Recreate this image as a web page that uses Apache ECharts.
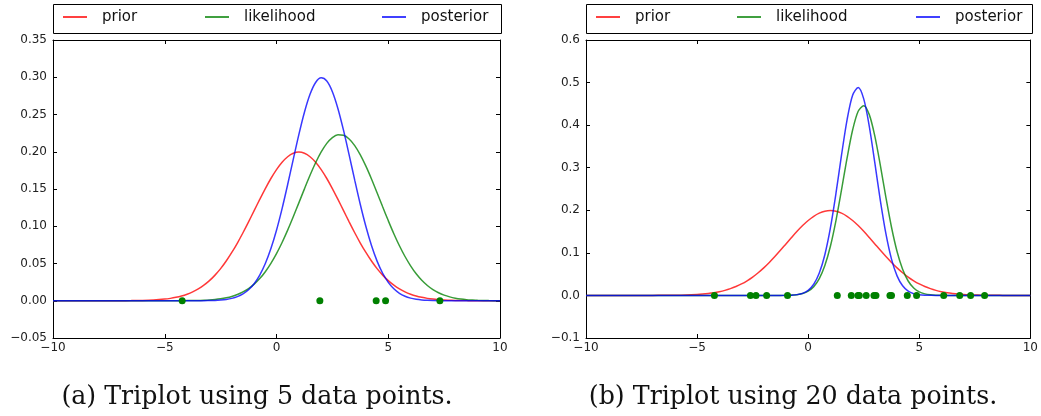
<!DOCTYPE html>
<html>
<head>
<meta charset="utf-8">
<script src="https://cdn.jsdelivr.net/npm/echarts@6/dist/echarts.min.js"></script>
<style>
  html, body { margin: 0; padding: 0; background: #fff; }
  #chart { width: 1041px; height: 416px; }
</style>
</head>
<body>
<div id="chart"></div>
<script>
// ---- data ----
const xTicks = [-10, -5, 0, 5, 10];
const leftYTicks = [-0.05, 0.00, 0.05, 0.10, 0.15, 0.20, 0.25, 0.30, 0.35];
const rightYTicks = [-0.1, 0.0, 0.1, 0.2, 0.3, 0.4, 0.5, 0.6];

const wideX = [-10, -9, -8, -7, -6.5, -6, -5.5, -5,
  -4.75, -4.5, -4.25, -4, -3.75, -3.5, -3.25, -3, -2.75, -2.5, -2.25, -2, -1.75, -1.5, -1.25, -1, -0.75, -0.5, -0.25, 0,
  0.25, 0.5, 0.75, 1, 1.25, 1.5, 1.75, 2, 2.25, 2.5, 2.75, 3, 3.25, 3.5, 3.75, 4, 4.25, 4.5, 4.75, 5,
  5.25, 5.5, 5.75, 6, 6.25, 6.5, 6.75, 7, 7.25, 7.5, 7.75, 8, 8.25, 8.5, 8.75,
  9, 9.5, 10];
const priorY = [0, 0, 0, 0.0001, 0.0002, 0.0004, 0.0010, 0.0022,
  0.0032, 0.0046, 0.0064, 0.0088, 0.0119, 0.0159, 0.0209, 0.0270, 0.0344, 0.0431, 0.0533, 0.0648, 0.0775, 0.0913, 0.1059, 0.1210, 0.1360, 0.1506, 0.1641, 0.1760,
  0.1859, 0.1933, 0.1979, 0.1995, 0.1979, 0.1933, 0.1859, 0.1760, 0.1641, 0.1506, 0.1360, 0.1210, 0.1059, 0.0913, 0.0775, 0.0648, 0.0533, 0.0431, 0.0344, 0.0270,
  0.0209, 0.0159, 0.0119, 0.0088, 0.0064, 0.0046, 0.0032, 0.0022, 0.0015, 0.0010, 0.0007, 0.0004, 0.0003, 0.0002, 0.0001,
  0.0001, 0, 0];
const leftLikeY = [0, 0, 0, 0, 0, 0, 0, 0,
  0, 0, 0.0001, 0.0002, 0.0003, 0.0004, 0.0007, 0.0011, 0.0017, 0.0026, 0.0039, 0.0057, 0.0083, 0.0118, 0.0163, 0.0223, 0.0298, 0.0390, 0.0502, 0.0633,
  0.0782, 0.0948, 0.1127, 0.1314, 0.1502, 0.1684, 0.1852, 0.1997, 0.2112, 0.2190, 0.2227, 0.2221, 0.2172, 0.2083, 0.1959, 0.1807, 0.1635, 0.1450, 0.1261, 0.1076,
  0.0900, 0.0738, 0.0594, 0.0469, 0.0362, 0.0275, 0.0205, 0.0149, 0.0107, 0.0075, 0.0052, 0.0035, 0.0023, 0.0015, 0.0010,
  0.0006, 0.0002, 0.0001];
const leftPostY = [0, 0, 0, 0, 0, 0, 0, 0,
  0, 0, 0, 0, 0, 0.0001, 0.0001, 0.0003, 0.0005, 0.0010, 0.0018, 0.0032, 0.0055, 0.0091, 0.0147, 0.0229, 0.0345, 0.0500, 0.0701, 0.0947,
  0.1237, 0.1560, 0.1898, 0.2230, 0.2530, 0.2771, 0.2930, 0.2992, 0.2949, 0.2806, 0.2578, 0.2286, 0.1958, 0.1619, 0.1292, 0.0996, 0.0741, 0.0532, 0.0369, 0.0247,
  0.0160, 0.0100, 0.0060, 0.0035, 0.0020, 0.0011, 0.0006, 0.0003, 0.0001, 0.0001, 0, 0, 0, 0, 0,
  0, 0, 0];

const narrowX = [-10, -6, -3, -2, -1.5, -1, -0.75, -0.5, -0.25, 0, 0.25, 0.5, 0.75, 1, 1.25, 1.5, 1.75, 2, 2.25, 2.5,
  2.75, 3, 3.25, 3.5, 3.75, 4, 4.25, 4.5, 4.75, 5, 5.25, 5.5, 5.75, 6, 6.5, 7, 8, 10];
const rightLikeY = [0, 0, 0, 0, 0, 0.0002, 0.0007, 0.0018, 0.0044, 0.0099, 0.0205, 0.0394, 0.0702, 0.1156, 0.1759, 0.2477, 0.3226, 0.3885, 0.4327, 0.4458,
  0.4247, 0.3742, 0.3049, 0.2298, 0.1602, 0.1033, 0.0616, 0.0339, 0.0173, 0.0082, 0.0036, 0.0014, 0.0005, 0.0002, 0, 0, 0, 0];
const rightPostY = [0, 0, 0, 0, 0, 0.0002, 0.0006, 0.0019, 0.0049, 0.0119, 0.0262, 0.0525, 0.0956, 0.1585, 0.2395, 0.3294, 0.4125, 0.4704, 0.4884, 0.4617,
  0.3973, 0.3114, 0.2222, 0.1444, 0.0854, 0.0460, 0.0226, 0.0101, 0.0041, 0.0015, 0.0005, 0.0002, 0, 0, 0, 0, 0, 0];

const leftPts = [-4.22, 1.94, 4.46, 4.88, 7.31];
const rightPts = [-4.22, -2.60, -2.35, -1.87, -0.93, 1.31, 1.94, 2.24, 2.30, 2.61, 2.96, 3.05, 3.68, 3.75, 4.46, 4.88, 6.10, 6.82, 7.31, 7.94];

const seriesNames = ['prior', 'likelihood', 'posterior'];
const captions = ['(a) Triplot using 5 data points.', '(b) Triplot using 20 data points.'];

// ---- chart ----
const chart = echarts.init(document.getElementById('chart'), null, { renderer: 'canvas' });
const pairs = (xs, ys) => xs.map((x, i) => [x, ys[i]]);
const ptPairs = (xs) => xs.map(x => [x, 0]);
const minus = s => s.replace('-', '\u2212');
const colors = { prior: '#ff0000', likelihood: '#008000', posterior: '#0000ff' };

const labelFont = { fontFamily: 'DejaVu Sans', fontSize: 12, color: '#222' };

function xAxes(gi) {
  const base = {
    type: 'value', gridIndex: gi, min: xTicks[0], max: xTicks[xTicks.length - 1], interval: xTicks[1] - xTicks[0],
    splitLine: { show: false },
    axisLine: { show: true, onZero: false, lineStyle: { color: '#000', width: 1 } },
    axisTick: { show: true, inside: true, length: 4, lineStyle: { color: '#000' } }
  };
  return [
    Object.assign({}, base, { position: 'bottom', axisLabel: Object.assign({ margin: 4, formatter: v => minus(String(v)) }, labelFont) }),
    Object.assign({}, base, { position: 'top', axisLabel: { show: false } })
  ];
}
function yAxes(gi, ticks, dec) {
  const base = {
    type: 'value', gridIndex: gi, min: ticks[0], max: ticks[ticks.length - 1], interval: +(ticks[1] - ticks[0]).toFixed(4),
    splitLine: { show: false },
    axisLine: { show: true, onZero: false, lineStyle: { color: '#000', width: 1 } },
    axisTick: { show: true, inside: true, length: 4, lineStyle: { color: '#000' } }
  };
  return [
    Object.assign({}, base, { position: 'left', axisLabel: Object.assign({ margin: 6, formatter: v => { const s = (+v).toFixed(dec); return s.startsWith('-') ? '\u2212' + s.slice(1) : s; } }, labelFont) }),
    Object.assign({}, base, { position: 'right', axisLabel: { show: false } })
  ];
}

function lineSeries(name, xi, yi, data) {
  return {
    name, type: 'line', xAxisIndex: xi, yAxisIndex: yi, data, showSymbol: false, smooth: 0.3,
    lineStyle: { color: colors[name], width: 1.5, opacity: 0.78 }, itemStyle: { color: colors[name] }, z: 2
  };
}
function dotSeries(xi, yi, data) {
  return { name: 'data', type: 'scatter', xAxisIndex: xi, yAxisIndex: yi, data, symbolSize: 7,
    itemStyle: { color: '#008000', opacity: 1 }, z: 3 };
}

const legendX = [[63, 205, 382], [596, 737, 916]];
const legends = [];
legendX.forEach(row => row.forEach((lx, i) => {
  legends.push({
    data: [seriesNames[i]], left: lx, top: 8, icon: 'rect', itemWidth: 24, itemHeight: 1.5, padding: 0,
    selectedMode: false,
    textStyle: { fontFamily: 'DejaVu Sans', fontSize: 15, color: '#111', padding: [0, 0, 0, 10], lineHeight: 18 }
  });
}));

const capFont = "25.3px 'DejaVu Serif'";
const option = {
  animation: false,
  backgroundColor: '#fff',
  grid: [
    { left: 53, top: 40, width: 447, height: 298 },
    { left: 586, top: 40, width: 446, height: 298 }
  ],
  xAxis: [...xAxes(0), ...xAxes(1)],
  yAxis: [...yAxes(0, leftYTicks, 2), ...yAxes(1, rightYTicks, 1)],
  legend: legends,
  series: [
    lineSeries('prior', 0, 0, pairs(wideX, priorY)),
    lineSeries('likelihood', 0, 0, pairs(wideX, leftLikeY)),
    lineSeries('posterior', 0, 0, pairs(wideX, leftPostY)),
    dotSeries(0, 0, ptPairs(leftPts)),
    lineSeries('prior', 2, 2, pairs(wideX, priorY)),
    lineSeries('likelihood', 2, 2, pairs(narrowX, rightLikeY)),
    lineSeries('posterior', 2, 2, pairs(narrowX, rightPostY)),
    dotSeries(2, 2, ptPairs(rightPts))
  ],
  graphic: [
    { type: 'rect', shape: { x: 53.5, y: 4.5, width: 448, height: 29 }, style: { fill: 'none', stroke: '#000', lineWidth: 1 } },
    { type: 'rect', shape: { x: 586.5, y: 4.5, width: 446, height: 29 }, style: { fill: 'none', stroke: '#000', lineWidth: 1 } },
    { type: 'text', x: 257, y: 397, style: { text: captions[0], fill: '#111', font: capFont, align: 'center', verticalAlign: 'middle', textAlign: 'center', textVerticalAlign: 'middle' } },
    { type: 'text', x: 793, y: 397, style: { text: captions[1], fill: '#111', font: capFont, align: 'center', verticalAlign: 'middle', textAlign: 'center', textVerticalAlign: 'middle' } }
  ]
};
chart.setOption(option);
</script>
</body>
</html>
